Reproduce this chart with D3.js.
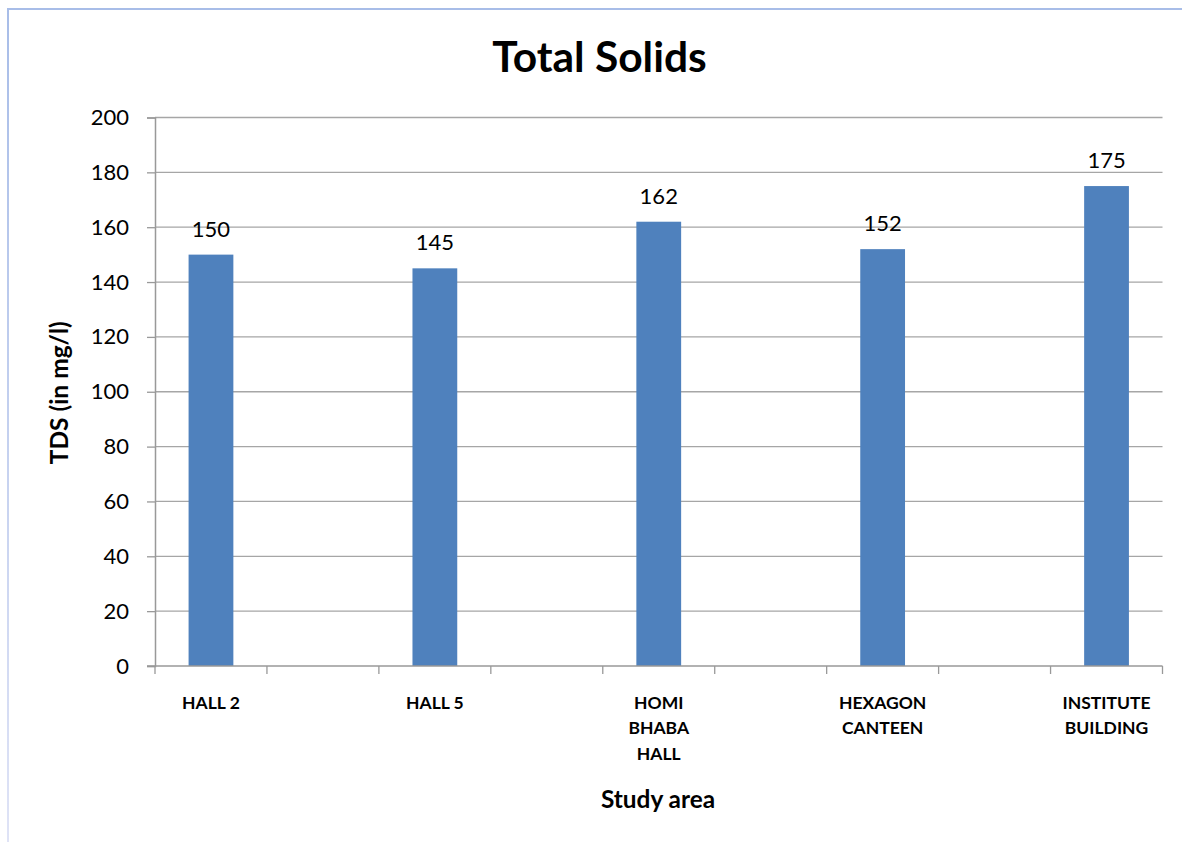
<!DOCTYPE html>
<html>
<head>
<meta charset="utf-8">
<script src="https://cdn.jsdelivr.net/npm/d3@7"></script>
<style>
  html, body { margin: 0; padding: 0; background: #ffffff; }
  svg { display: block; font-family: Lato, "Open Sans", sans-serif; }
</style>
</head>
<body>
<svg id="chart" width="1182" height="843"></svg>
<script>
// Study sites (blank slots separate the sampled locations on the axis)
const categories = ["HALL 2", "", "HALL 5", "", "HOMI BHABA HALL", "", "HEXAGON CANTEEN", "", "INSTITUTE BUILDING"];
// Total dissolved solids per site, mg/l
const values = [150, null, 145, null, 162, null, 152, null, 175];
const yTicks = [0, 20, 40, 60, 80, 100, 120, 140, 160, 180, 200];

const chartTitle = "Total Solids";
const yTitle = "TDS (in mg/l)";
const xTitle = "Study area";

const W = 1182, H = 843;
const margin = { left: 155, top: 117.5 };
const plotRight = 1162.5, plotBottom = 666;

const svg = d3.select("#chart");

// outer chart frame (top and left edges)
const defs = svg.append("defs");
const grad = defs.append("linearGradient").attr("id", "frameLeft")
  .attr("x1", 0).attr("y1", 0).attr("x2", 0).attr("y2", 1);
grad.append("stop").attr("offset", "0%").attr("stop-color", "#a8bde8");
grad.append("stop").attr("offset", "100%").attr("stop-color", "#dfe3f6");
svg.append("rect").attr("x", 7).attr("y", 8).attr("width", 2).attr("height", H - 9)
  .attr("fill", "url(#frameLeft)");
svg.append("rect").attr("x", 7).attr("y", 8).attr("width", W - 7).attr("height", 2)
  .attr("fill", "#a8bde8");

const x = d3.scaleBand()
  .domain(d3.range(categories.length))
  .range([margin.left, plotRight])
  .paddingInner(0).paddingOuter(0);

const y = d3.scaleLinear().domain([0, 200]).range([plotBottom, margin.top]);

// horizontal gridlines
svg.append("g").selectAll("line").data(yTicks.filter(d => d > 0)).join("line")
  .attr("x1", margin.left).attr("x2", plotRight)
  .attr("y1", d => y(d)).attr("y2", d => y(d))
  .attr("stroke", "#a6a6a6").attr("stroke-width", 1.3);

// y axis
const yAxis = svg.append("g").attr("transform", `translate(${margin.left},0)`)
  .call(d3.axisLeft(y).tickValues(yTicks).tickSize(8).tickPadding(18));
yAxis.select(".domain").attr("stroke", "#999999").attr("stroke-width", 1.5);
yAxis.selectAll(".tick line").attr("stroke", "#999999").attr("stroke-width", 1.3);
yAxis.selectAll(".tick text").attr("font-size", 22).attr("fill", "#000")
  .style("font-family", "Lato, sans-serif");

// bars
const barW = x.bandwidth() * 0.4;
const idx = d3.range(categories.length).filter(i => values[i] != null);
svg.append("g").selectAll("rect").data(idx).join("rect")
  .attr("x", i => x(i) + (x.bandwidth() - barW) / 2)
  .attr("width", barW)
  .attr("y", i => y(values[i]))
  .attr("height", i => plotBottom - y(values[i]))
  .attr("fill", "#4f81bd");

// value labels
svg.append("g").selectAll("text").data(idx).join("text")
  .attr("x", i => x(i) + x.bandwidth() / 2)
  .attr("y", i => y(values[i]) - 18)
  .attr("text-anchor", "middle")
  .attr("font-size", 22).attr("fill", "#000")
  .text(i => values[i]);

// x axis line and slot ticks
svg.append("line")
  .attr("x1", margin.left - 8).attr("x2", plotRight)
  .attr("y1", plotBottom).attr("y2", plotBottom)
  .attr("stroke", "#999999").attr("stroke-width", 1.5);
const edges = d3.range(categories.length + 1).map(i => i < categories.length ? x(i) : x(categories.length - 1) + x.step());
svg.append("g").selectAll("line").data(edges).join("line")
  .attr("x1", d => d).attr("x2", d => d)
  .attr("y1", plotBottom).attr("y2", plotBottom + 8)
  .attr("stroke", "#999999").attr("stroke-width", 1.3);

// category labels, word-wrapped to the slot width
const catG = svg.append("g");
idx.forEach(i => {
  const cx = x(i) + x.bandwidth() / 2;
  const t = catG.append("text")
    .attr("x", cx)
    .attr("y", 708.5)
    .attr("text-anchor", "middle")
    .attr("font-size", 17.5).attr("font-weight", "bold").attr("fill", "#000");
  const words = categories[i].split(" ");
  let line = [];
  let tspan = t.append("tspan").attr("x", cx).attr("dy", 0);
  words.forEach(w => {
    line.push(w);
    tspan.text(line.join(" "));
    if (tspan.node().getComputedTextLength() > 104 && line.length > 1) {
      line.pop();
      tspan.text(line.join(" "));
      line = [w];
      tspan = t.append("tspan").attr("x", cx).attr("dy", 25.5).text(w);
    }
  });
});

// titles
svg.append("text").attr("x", 599.5).attr("y", 72)
  .attr("text-anchor", "middle").attr("font-size", 42.5).attr("font-weight", "bold")
  .attr("fill", "#000").text(chartTitle);

svg.append("text").attr("x", 658).attr("y", 808)
  .attr("text-anchor", "middle").attr("font-size", 24.4).attr("font-weight", "bold")
  .attr("fill", "#000").text(xTitle);

svg.append("text")
  .attr("transform", `translate(68,${(margin.top + plotBottom) / 2 + 1}) rotate(-90)`)
  .attr("text-anchor", "middle").attr("font-size", 24.5).attr("font-weight", "bold")
  .attr("fill", "#000").text(yTitle);
</script>
</body>
</html>
